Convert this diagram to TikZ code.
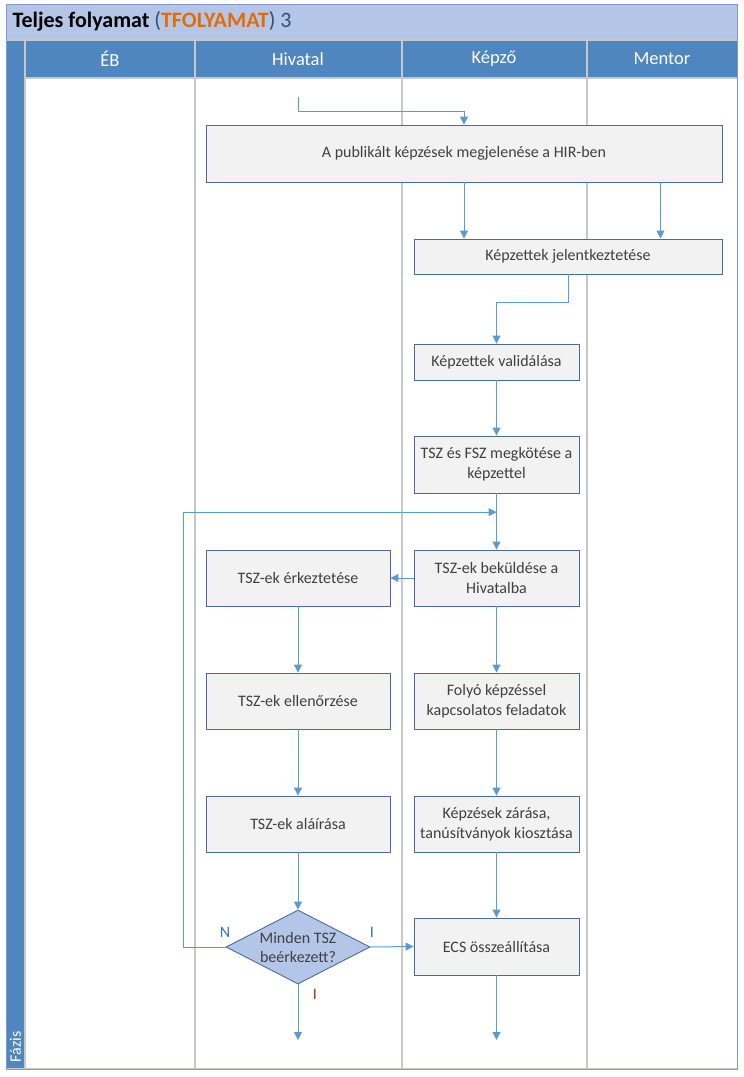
\documentclass[tikz,border=0pt]{standalone}
\usepackage{fontspec}
\setmainfont{Carlito}
\usetikzlibrary{arrows.meta,shapes.geometric,calc}
\definecolor{hdr}{HTML}{4F86BF}
\definecolor{ttl}{HTML}{B4C6E7}
\definecolor{frame}{HTML}{7E9CC4}
\definecolor{arr}{HTML}{5B9BD5}
\definecolor{nfill}{HTML}{F2F2F2}
\definecolor{nborder}{HTML}{4A6A9E}
\definecolor{txt}{HTML}{404040}
\definecolor{lane}{HTML}{C8C8C8}
\definecolor{orng}{HTML}{E36C0A}
\definecolor{lblblue}{HTML}{2E75B6}
\definecolor{lblred}{HTML}{943634}
\definecolor{darkpar}{HTML}{2F4F7F}
\begin{document}
\begin{tikzpicture}[x=1pt,y=-1pt,
  proc/.style={draw=nborder,fill=nfill,line width=0.9pt,text=txt,align=center,inner sep=0pt,
    font=\fontsize{16}{20}\selectfont},
  dec/.style={diamond,draw=nborder,fill=ttl,line width=0.9pt,text=txt,align=center,inner sep=-4pt,
    shape aspect=2,minimum width=144pt,minimum height=74pt,font=\fontsize{16}{19}\selectfont},
  flow/.style={draw=arr,line width=1pt,-{Triangle[width=8pt,length=8pt]}},
  hdrtxt/.style={text=white,font=\fontsize{18.5}{22}\selectfont},
  lbl/.style={font=\fontsize{16}{18}\selectfont}]
\useasboundingbox (0,0) rectangle (744,1077);
% frame
\fill[white] (6,4) rectangle (737,1069);
\fill[ttl] (6,4) rectangle (737,40);
\fill[hdr] (6,40) rectangle (737,78);
\fill[hdr] (6,78) rectangle (25,1068);
% lanes
\draw[lane,line width=1.3pt] (25,40) -- (25,1068);
\draw[lane,line width=1.3pt] (195,40) -- (195,1068);
\draw[lane,line width=1.3pt] (402,40) -- (402,1068);
\draw[lane,line width=1.3pt] (587,40) -- (587,1068);
\draw[lane,line width=1.3pt] (6,40) -- (737,40);
\draw[lane,line width=1.3pt] (25,78) -- (737,78);
\draw[lane,line width=1.5pt] (6,1069) -- (737,1069);
\draw[frame,line width=1pt] (6,4) rectangle (737,1069);
% titles
\node[anchor=west,font=\fontsize{22}{26}\selectfont] (title) at (9,21)
  {\textbf{Teljes folyamat} {\color{darkpar}(}\textcolor{orng}{\textbf{TFOLYAMAT}}{\color{darkpar}) 3}};
\node[hdrtxt] (h1) at (110,59) {ÉB};
\node[hdrtxt] (h2) at (298,59) {Hivatal};
\node[hdrtxt] (h3) at (494,59) {Képző};
\node[hdrtxt] (h4) at (662,59) {Mentor};
\node[text=white,rotate=90,anchor=west,font=\fontsize{16}{18}\selectfont] (faz) at (15.5,1066) {Fázis};
% nodes
\node[proc,minimum width=516pt,minimum height=57pt] (n1) at (464,153.5) {A publikált képzések megjelenése a HIR-ben};
\node[proc,minimum width=308pt,minimum height=35pt] (n2) at (568,256.5) {Képzettek jelentkeztetése};
\node[proc,minimum width=165pt,minimum height=36pt] (n3) at (496.5,362) {Képzettek validálása};
\node[proc,minimum width=165pt,minimum height=57pt] (n4) at (496.5,464.5) {TSZ és FSZ megkötése a\\képzettel};
\node[proc,minimum width=165pt,minimum height=56pt] (n5) at (496.5,578) {TSZ-ek beküldése a\\Hivatalba};
\node[proc,minimum width=184pt,minimum height=56pt] (n6) at (298,578) {TSZ-ek érkeztetése};
\node[proc,minimum width=184pt,minimum height=56pt] (n7) at (298,701) {TSZ-ek ellenőrzése};
\node[proc,minimum width=184pt,minimum height=56pt] (n8) at (298,824) {TSZ-ek aláírása};
\node[proc,minimum width=165pt,minimum height=56pt] (n11) at (496.5,701) {Folyó képzéssel\\kapcsolatos feladatok};
\node[proc,minimum width=165pt,minimum height=56pt] (n12) at (496.5,824) {Képzések zárása,\\tanúsítványok kiosztása};
\node[dec] (dia) at (298,947) {Minden TSZ\\beérkezett?};
\node[proc,minimum width=165pt,minimum height=57pt] (ecs) at (496.5,946.5) {ECS összeállítása};
% connectors
\coordinate (s0) at (298,97);
\draw[flow] (s0) -- ++(0,14) -| (n1.north);
\draw[flow] (n1.south) -- (n1.south |- n2.north);
\draw[flow] ([xshift=-62pt]n1.south east) -- ([xshift=-62pt]n2.north east);
\draw[flow] (n2.south) -- ++(0,28) -| (n3.north);
\draw[flow] (n3) -- (n4);
\coordinate (j) at ($(n4.south)!0.333!(n5.north)$);
\draw[flow] (n4) -- (n5);
\draw[flow] (dia.west) -- ++(-42,0) |- (j);
\draw[flow] (n5.west) -- (n6.east);
\draw[flow] (n6) -- (n7);
\draw[flow] (n7) -- (n8);
\draw[flow] (n8) -- (dia.north);
\draw[flow] (dia.east) -- (ecs.west);
\draw[flow] (n5) -- (n11);
\draw[flow] (n11) -- (n12);
\draw[flow] (n12) -- (ecs);
\coordinate (e1) at (298,1040);
\coordinate (e2) at (496.5,1040);
\draw[flow] (dia.south) -- (e1);
\draw[flow] (ecs.south) -- (e2);
% labels
\node[lbl,text=lblblue] (lN) at (225,932) {N};
\node[lbl,text=lblblue] (lI) at (372,932) {I};
\node[lbl,text=lblred] (lI2) at (315,994) {I};
\end{tikzpicture}
\end{document}
